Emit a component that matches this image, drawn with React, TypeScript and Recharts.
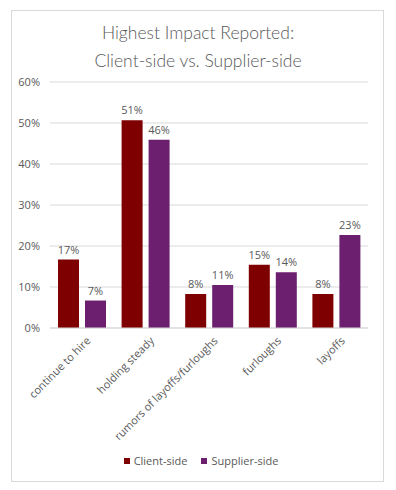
import React from "react"
import {
  BarChart,
  Bar,
  XAxis,
  YAxis,
  CartesianGrid,
  Legend,
  LabelList
} from "recharts"

// values (percent)
const categories = [
  "continue to hire",
  "holding steady",
  "rumors of layoffs/furloughs",
  "furloughs",
  "layoffs"
]
const clientSide = [16.7, 50.7, 8.3, 15.4, 8.3]
const supplierSide = [6.7, 45.9, 10.5, 13.6, 22.7]
const yTicks = [0, 10, 20, 30, 40, 50, 60]

const seriesNames = ["Client-side", "Supplier-side"]
const seriesColors = ["#7f0000", "#6b1f6e"]

const data = categories.map((name, i) => ({
  name,
  client: clientSide[i],
  supplier: supplierSide[i]
}))

const textColor = "#595959"
const axisFont = "'Open Sans', 'DejaVu Sans', sans-serif"

const pct = (v: any) => `${Math.round(Number(v))}%`

function CategoryTick(props: any) {
  const { x, y, payload } = props
  return (
    <g transform={`translate(${x + 4},${y})`}>
      <text
        transform="rotate(-45)"
        textAnchor="end"
        dy="0.7em"
        fill={textColor}
        fontSize={11}
        fontFamily={axisFont}
      >
        {payload.value}
      </text>
    </g>
  )
}

function LegendContent() {
  return (
    <div
      style={{
        display: "flex",
        justifyContent: "center",
        gap: 14,
        paddingLeft: 6,
        fontFamily: axisFont,
        fontSize: 11,
        color: textColor,
        lineHeight: "20px"
      }}
    >
      {seriesNames.map((n, i) => (
        <span key={n} style={{ display: "flex", alignItems: "center" }}>
          <span
            style={{
              width: 6,
              height: 6,
              background: seriesColors[i],
              marginRight: 4,
              display: "inline-block"
            }}
          />
          {n}
        </span>
      ))}
    </div>
  )
}

export default function App() {
  return (
    <div
      style={{
        position: "absolute",
        left: 0,
        top: 0,
        width: 396,
        height: 490,
        background: "#fff"
      }}
    >
      <div
        style={{
          position: "absolute",
          left: 11,
          top: 10,
          width: 371,
          height: 470,
          border: "1px solid #d9d9d9"
        }}
      />
      <div
        style={{
          position: "absolute",
          left: 0,
          top: 19,
          width: 396,
          textAlign: "center",
          fontFamily: "Lato, 'Open Sans', sans-serif",
          fontWeight: 300,
          fontSize: 17.5,
          lineHeight: "28px",
          color: textColor
        }}
      >
        Highest Impact Reported:
        <br />
        Client-side vs. Supplier-side
      </div>
      <div style={{ position: "absolute", left: 0, top: 0 }}>
        <BarChart
          width={396}
          height={490}
          data={data}
          margin={{ top: 82, right: 28, left: 10, bottom: 19 }}
          barSize={21}
          barGap={6}
        >
          <CartesianGrid vertical={false} stroke="#d9d9d9" />
          <XAxis
            dataKey="name"
            interval={0}
            tickLine={false}
            axisLine={{ stroke: "#d9d9d9" }}
            height={123}
            tick={<CategoryTick />}
          />
          <YAxis
            width={40}
            domain={[0, 60]}
            ticks={yTicks}
            tickFormatter={(v) => `${v}%`}
            axisLine={false}
            tickLine={false}
            tickMargin={4}
            tick={{ fill: textColor, fontSize: 11, fontFamily: axisFont }}
          />
          <Legend
            verticalAlign="bottom"
            height={20}
            content={<LegendContent />}
            wrapperStyle={{ left: 0, width: 396 }}
          />
          <Bar
            dataKey="client"
            name={seriesNames[0]}
            fill={seriesColors[0]}
            isAnimationActive={false}
          >
            <LabelList
              dataKey="client"
              position="top"
              offset={6}
              formatter={pct}
              fill={textColor}
              fontSize={11}
              fontFamily={axisFont}
            />
          </Bar>
          <Bar
            dataKey="supplier"
            name={seriesNames[1]}
            fill={seriesColors[1]}
            isAnimationActive={false}
          >
            <LabelList
              dataKey="supplier"
              position="top"
              offset={6}
              formatter={pct}
              fill={textColor}
              fontSize={11}
              fontFamily={axisFont}
            />
          </Bar>
        </BarChart>
      </div>
    </div>
  )
}
